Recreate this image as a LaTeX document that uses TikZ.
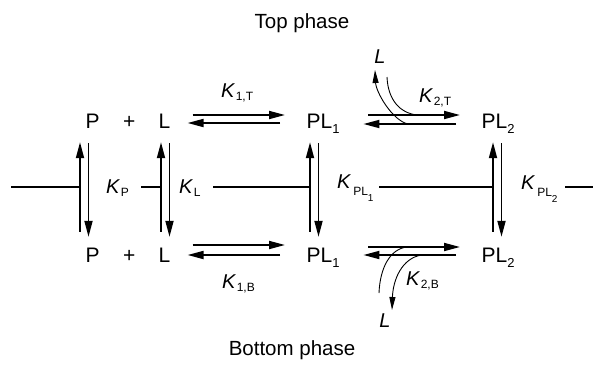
\documentclass[tikz,border=0pt]{standalone}
\usepackage{fontspec}
\setmainfont{Liberation Sans}
\usetikzlibrary{arrows.meta, positioning}

% Tiefgestellte Indizes
\newcommand{\lsub}[1]{\raisebox{-5pt}{\fontsize{13}{13}\selectfont #1}}
\newcommand{\ksub}[1]{\textit{K}\kern0.5pt\raisebox{-3pt}{\fontsize{12}{12}\selectfont #1}}
\newcommand{\kpl}[1]{\textit{K}\kern2pt\raisebox{-7pt}{\fontsize{12}{12}\selectfont PL\raisebox{-6pt}{\fontsize{10}{10}\selectfont #1}}}

\begin{document}
\begin{tikzpicture}[x=1pt, y=-1pt,
    spec/.style={inner sep=0pt, anchor=base west, text height=15pt, text depth=0pt,
                 font=\fontsize{21}{25}\selectfont},
    klab/.style={inner sep=0pt, anchor=base west, font=\fontsize{20}{24}\selectfont},
    rxn/.style={line width=1.8pt, -{Triangle[length=16pt, width=8pt]}},
    swoop/.style={line width=0.9pt},
    midline/.style={line width=1.8pt}]
  \useasboundingbox (0,0) rectangle (593,364);

  % Phasen
  \node[font=\fontsize{20.5}{24}\selectfont, anchor=base] (topph) at (302,28) {Top phase};
  \node[font=\fontsize{20.5}{24}\selectfont, anchor=base] (botph) at (292,355) {Bottom phase};

  % Obere Reihe
  \node[spec] (pT)   at (85.3,128)  {P};
  \node[spec] (plsT) at (123,128)   {+};
  \node[spec] (lT)   at (158.5,128) {L};
  \node[spec] (plT1) at (306.5,128) {PL\lsub{1}};
  \node[spec] (plT2) at (481.5,128) {PL\lsub{2}};

  % Untere Reihe
  \node[spec] (pB)   at (85.3,262)  {P};
  \node[spec] (plsB) at (123,262)   {+};
  \node[spec] (lB)   at (158.5,262) {L};
  \node[spec] (plB1) at (306.5,262) {PL\lsub{1}};
  \node[spec] (plB2) at (481.5,262) {PL\lsub{2}};

  % Grenzflaeche
  \draw[midline] (11,187) -- (80,187)  (141,187) -- (161,187)
                 (213,187) -- (310,187)  (379,187) -- (493,187)  (565,187) -- (593,187);

  % Verteilung zwischen den Phasen
  \foreach \tnode/\bnode/\dx in {pT/pB/-5.3, lT/lB/2.5, plT1/plB1/3.5, plT2/plB2/11.5} {
    \draw[rxn] ([shift={(\dx,-15)}]\bnode.north west) -- ([shift={(\dx,14)}]\tnode.south west);
    \draw[rxn] ([shift={(\dx+8.5,15)}]\tnode.south west) -- ([shift={(\dx+8.5,-10)}]\bnode.north west);
  }

  % Gleichgewichte oben
  \draw[rxn] ([shift={(22,-5.5)}]lT.east) -- ([shift={(-21.5,-5.5)}]plT1.west);
  \draw[rxn] ([shift={(-26.5,2.5)}]plT1.west) -- ([shift={(17,2.5)}]lT.east);
  \draw[rxn] ([shift={(28.6,-5.5)}]plT1.east) -- coordinate[pos=0.53] (cu) ([shift={(-21.5,-5.5)}]plT2.west);
  \draw[rxn] ([shift={(-25.5,3.5)}]plT2.west) -- coordinate[pos=0.52] (cl) ([shift={(23.6,3.5)}]plT1.east);

  % Gleichgewichte unten
  \draw[rxn] ([shift={(22,-9.5)}]lB.east) -- ([shift={(-21.5,-9.5)}]plB1.west);
  \draw[rxn] ([shift={(-26.5,0.5)}]plB1.west) -- ([shift={(17,0.5)}]lB.east);
  \draw[rxn] ([shift={(28.6,-7.5)}]plB1.east) -- coordinate[pos=0.42] (du) ([shift={(-21.5,-7.5)}]plB2.west);
  \draw[rxn] ([shift={(-25.5,0.5)}]plB2.west) -- coordinate[pos=0.37] (dl) ([shift={(23.6,0.5)}]plB1.east);

  % Freies L
  \node[klab, anchor=base] (ligT) at (380,63)  {\textit{L}};
  \node[klab, anchor=base] (ligB) at (385,327) {\textit{L}};
  \draw[swoop, -{Triangle[length=13pt, width=6pt]}] (cl)
    .. controls +(-16,-4) and +(1,22) .. ([shift={(-5,7)}]ligT.base);
  \draw[swoop] ([shift={(7,14)}]ligT.base)
    .. controls +(1,23) and +(-17,-2) .. (cu);
  \draw[swoop] (du)
    .. controls +(-17,2) and +(1,-25) .. ([shift={(-6,-34)}]ligB.base);
  \draw[swoop, -{Triangle[length=13pt, width=6pt]}] (dl)
    .. controls +(-20,3) and +(1,-30) .. ([shift={(7,-17)}]ligB.base);

  % Konstanten
  \node[klab] (k1T)  at (221,97)  {\ksub{1,T}};
  \node[klab] (k1B)  at (222,288) {\ksub{1,B}};
  \node[klab] (k2T)  at (419,102) {\ksub{2,T}};
  \node[klab] (k2B)  at (406,285) {\ksub{2,B}};
  \node[klab] (kP)   at (106,193) {\ksub{P}};
  \node[klab] (kL)   at (179,193) {\ksub{L}};
  \node[klab] (kPL1) at (337,188) {\kpl{1}};
  \node[klab] (kPL2) at (521,189) {\kpl{2}};
\end{tikzpicture}
\end{document}
